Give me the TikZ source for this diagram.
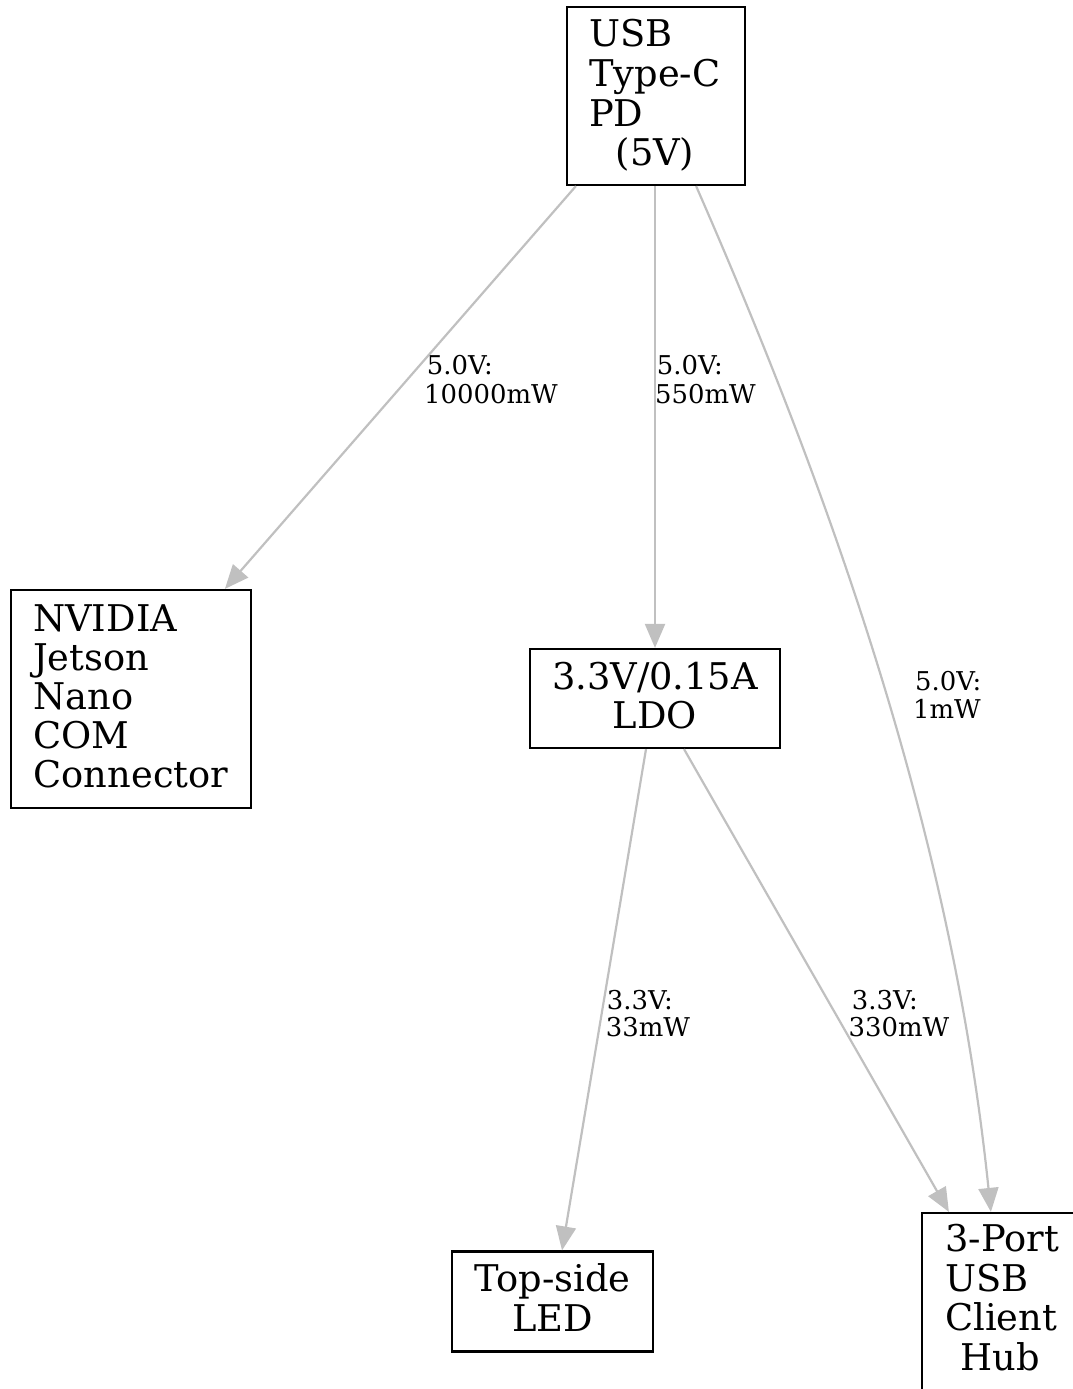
\documentclass[tikz,border=0pt]{standalone}
\usepackage{fontspec}
\setmainfont{DejaVu Serif}
\usetikzlibrary{arrows.meta,calc}
\definecolor{edgegray}{RGB}{192,192,192}
\begin{document}
\begin{tikzpicture}[x=1pt,y=-1pt,
  box/.style={draw=black,line width=2.2pt,inner sep=0pt},
  ntext/.style={inner sep=0pt,font=\fontsize{36.8}{39}\selectfont},
  ltext/.style={inner sep=0pt,font=\fontsize{25.9}{29}\selectfont},
  wire/.style={draw=edgegray,line width=2.2pt,-{Triangle[length=24pt,width=20pt,fill=edgegray]}}]
\useasboundingbox (0,0) rectangle (1073,1389);
% boxes
\node[box,minimum width=178pt,minimum height=178pt] (usb) at (656,96) {};
\node[box,minimum width=240pt,minimum height=218pt] (nv) at (131,699) {};
\node[box,minimum width=250pt,minimum height=99pt] (ldo) at (655,698.5) {};
\node[box,minimum width=201pt,minimum height=100pt] (led) at (552.5,1301.5) {};
\node[box,minimum width=156pt,minimum height=178pt] (hub) at (1000,1302) {};
% box texts
\node[ntext,anchor=base west] (usbA) at (589,46.7) {USB};
\node[ntext,anchor=base west] (usbB) at (589,86.7) {Type-C};
\node[ntext,anchor=base west] (usbC) at (589,126) {PD};
\node[ntext,anchor=base] (usbD) at (655,165) {(5V)};
\node[ntext,anchor=base west] (nvA) at (33,631) {NVIDIA};
\node[ntext,anchor=base west] (nvB) at (33,670.2) {Jetson};
\node[ntext,anchor=base west] (nvC) at (33,709.4) {Nano};
\node[ntext,anchor=base west] (nvD) at (33,748.6) {COM};
\node[ntext,anchor=base] (nvE) at (131,787.8) {Connector};
\node[ntext,anchor=base] (ldoA) at (655,689.3) {3.3V/0.15A};
\node[ntext,anchor=base] (ldoB) at (655,728.3) {LDO};
\node[ntext,anchor=base] (ledA) at (552.5,1291.7) {Top-side};
\node[ntext,anchor=base] (ledB) at (552.5,1331) {LED};
\node[ntext,anchor=base west] (hubA) at (945,1251.7) {3-Port};
\node[ntext,anchor=base west] (hubB) at (945,1291) {USB};
\node[ntext,anchor=base west] (hubC) at (945,1330) {Client};
\node[ntext,anchor=base] (hubD) at (1000,1370) {Hub};
% edges
\draw[wire] ([xshift=10pt]usb.south west) -- ([xshift=215pt]nv.north west);
\draw[wire] ([xshift=-1pt]usb.south) -- (ldo.north);
\draw[wire] ([xshift=-50pt]usb.south east) .. controls (849,535) and (955,863) .. ([xshift=70pt]hub.north west);
\draw[wire] ([xshift=-9pt]ldo.south) -- ([xshift=9.5pt]led.north);
\draw[wire] ([xshift=29pt]ldo.south) -- ([xshift=28pt]hub.north west);
% edge labels
\node[ltext,anchor=base west] (l1a) at (426.7,374.3) {5.0V:};
\node[ltext,anchor=base west] (l1b) at (424,403.3) {10000mW};
\node[ltext,anchor=base west] (l2a) at (656.7,374.3) {5.0V:};
\node[ltext,anchor=base west] (l2b) at (655,403.3) {550mW};
\node[ltext,anchor=base west] (l3a) at (915,690.7) {5.0V:};
\node[ltext,anchor=base west] (l3b) at (913,718.3) {1mW};
\node[ltext,anchor=base west] (l4a) at (606.7,1009) {3.3V:};
\node[ltext,anchor=base west] (l4b) at (605.7,1036.7) {33mW};
\node[ltext,anchor=base west] (l5a) at (851.7,1009) {3.3V:};
\node[ltext,anchor=base west] (l5b) at (848.5,1036.7) {330mW};
\end{tikzpicture}
\end{document}
